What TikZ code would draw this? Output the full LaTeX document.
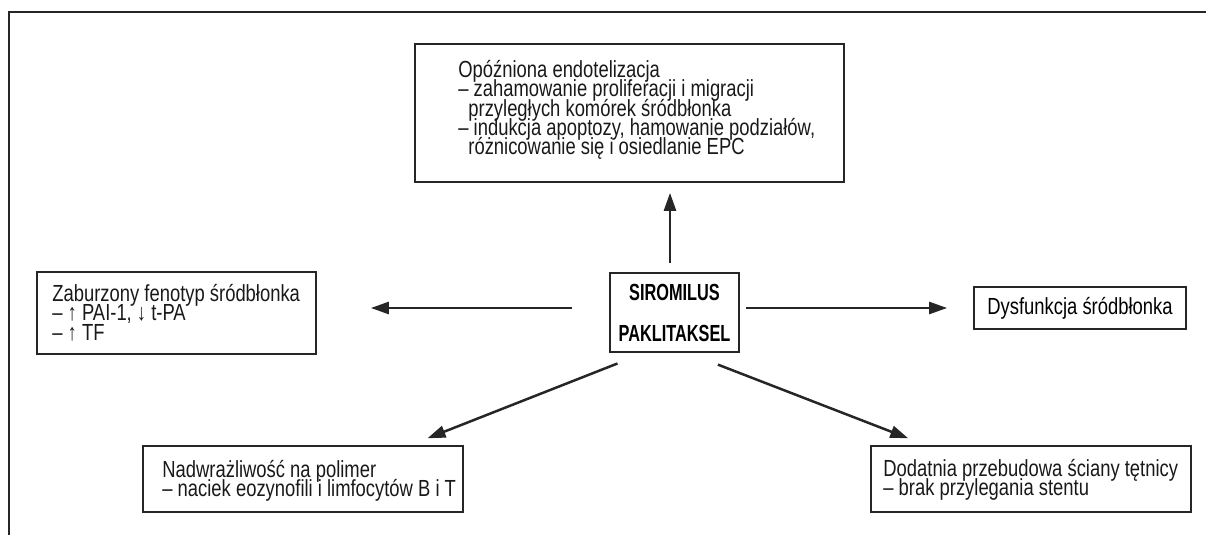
\documentclass[tikz,border=0pt]{standalone}
\usepackage{fontspec}
\setmainfont{Liberation Sans}[FakeStretch=0.79]
\newfontfamily\drugfont{Liberation Sans Bold}[FakeStretch=0.70]
\usetikzlibrary{arrows.meta}
\colorlet{colLine}{black!85}

\begin{document}
\begin{tikzpicture}[x=0.5pt,y=-0.5pt,
	box/.style={draw=colLine,line width=0.85pt,inner sep=0pt},
	txt/.style={anchor=north west,align=left,inner sep=0pt,text=black!90,
		font={\fontsize{11.65}{9.65}\selectfont\lineskiplimit=-\maxdimen}},
	arr/.style={draw=colLine,line width=1.25pt,-{Triangle[length=9pt,width=6pt]}}]

	\useasboundingbox (0,0) rectangle (1206,535);
	% frame
	\draw[colLine,line width=1pt] (9,535) -- (9,12) -- (1206,12);

	% ================================================================
	% boxes
	% ================================================================
	\node[box,minimum width=64.5pt,minimum height=39.5pt,align=center,
		font={\drugfont\fontsize{11.65}{20.5}\selectfont}] (sir) at (674.5,312.5) {SIROMILUS\\PAKLITAKSEL};

	% top: endothelialisation
	\node[box,minimum width=214.5pt,minimum height=69pt] (end) at (629.5,113) {};
	\node[txt] (endtxt) at (458,60) {Opóźniona endotelizacja\\
		– zahamowanie proliferacji i migracji\\
		\hspace*{5pt}przyległych komórek śródbłonka\\
		– indukcja apoptozy, hamowanie podziałów,\\
		\hspace*{5pt}różnicowanie się i osiedlanie EPC};

	% left: phenotype
	\node[box,minimum width=139.5pt,minimum height=41pt] (zab) at (176.5,313) {};
	\node[txt] (zabtxt) at (52,284) {Zaburzony fenotyp śródbłonka\\
		– ↑ PAI-1, ↓ t-PA\\
		– ↑ TF};

	% right: dysfunction
	\node[box,minimum width=106pt,minimum height=21pt,
		font={\fontsize{11.65}{9.65}\selectfont}] (dys) at (1080,308) {Dysfunkcja śródbłonka};

	% bottom left: hypersensitivity
	\node[box,minimum width=160pt,minimum height=33pt] (hyp) at (303,479) {};
	\node[txt] (hyptxt) at (162,460) {Nadwrażliwość na polimer\\
		– naciek eozynofili i limfocytów B i T};

	% bottom right: remodelling
	\node[box,minimum width=160pt,minimum height=33pt] (rem) at (1031,479) {};
	\node[txt] (remtxt) at (883,459) {Dodatnia przebudowa ściany tętnicy\\
		– brak przylegania stentu};

	% ================================================================
	% arrows
	% ================================================================
	\draw[arr,shorten <=4.5pt,shorten >=5pt] ([xshift=-2.25pt]sir.north) -- ([xshift=-2.25pt]sir.north |- end.south);
	\draw[arr,shorten <=18.5pt,shorten >=27pt] ([yshift=2.25pt]sir.west) -- ([yshift=2.25pt]sir.west -| zab.east);
	\draw[arr,shorten <=3pt,shorten >=13pt] ([yshift=2.25pt]sir.east) -- (dys.west);
	\draw[arr,shorten <=14.5pt,shorten >=9.4pt] ([xshift=-15pt]sir.south) -- ([xshift=53.5pt]hyp.north);
	\draw[arr,shorten <=16.3pt,shorten >=9.5pt] ([xshift=6.5pt]sir.south) -- ([xshift=-52.5pt]rem.north);

\end{tikzpicture}
\end{document}
